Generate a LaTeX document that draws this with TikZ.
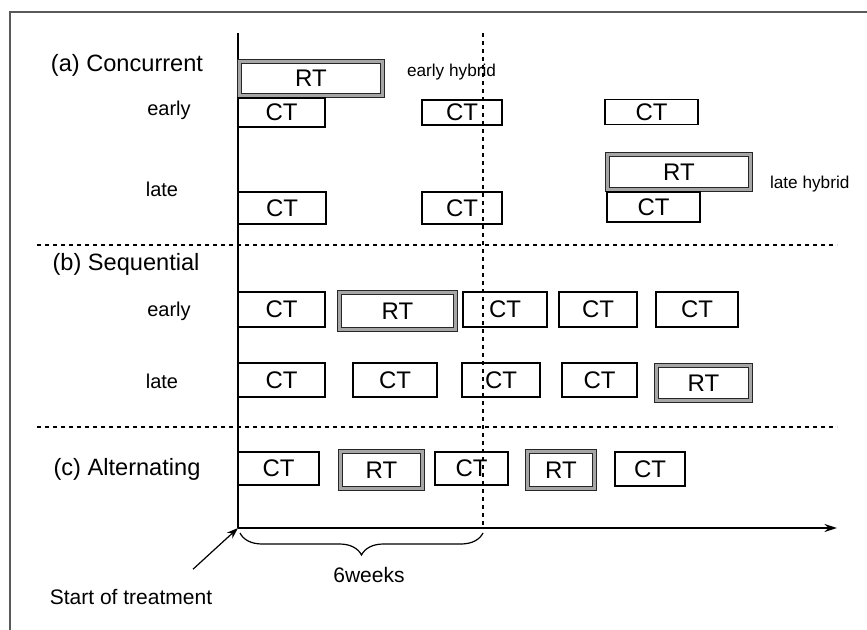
\documentclass[tikz,border=0pt]{standalone}
\usepackage{fontspec}
\setmainfont{Liberation Sans}
\usetikzlibrary{arrows.meta,decorations.pathreplacing}
\tikzset{
  ctbox/.style    = {draw,line width=0.6pt,inner sep=0pt,font=\fontsize{12}{14}\selectfont},
  rtbox/.style    = {draw=black!85,double=gray!70,double distance=1.5pt,line width=0.5pt,
                     inner sep=0pt,font=\fontsize{12}{14}\selectfont},
  axisline/.style = {line width=0.7pt},
  timearr/.style  = {-{Stealth[length=2.2mm,width=1.4mm]},line width=0.7pt},
  sepline/.style  = {dashed,dash pattern=on 2.2pt off 1.8pt,line width=0.55pt},
  brline/.style   = {decorate,line width=0.6pt},
  grouplbl/.style = {font=\fontsize{11.8}{14}\selectfont},
  rowlbl/.style   = {font=\fontsize{10}{12}\selectfont},
  notelbl/.style  = {font=\fontsize{8.6}{10}\selectfont,anchor=west}
}
\begin{document}
\begin{tikzpicture}[x=0.5pt,y=-0.5pt]
  \useasboundingbox (0,0) rectangle (867,630);
  % frame
  \draw[line width=0.6pt,gray!70!black] (10,630) -- (10,12) -- (867,12);
  % axes
  \coordinate (origin) at (238,528);
  \coordinate (axtop)  at (238,33);
  \coordinate (axend)  at (837,528);
  \coordinate (sixtop) at (483,33);
  \coordinate (six)    at (483,528);
  \draw[axisline] (axtop) -- (origin);
  \draw[timearr] (origin) -- (axend);
  \draw[sepline] (sixtop) -- (six);
  \draw[sepline] (37,245) -- (837,245);
  \draw[sepline] (37,427) -- (837,427);
  % group and row labels
  \node[grouplbl] (lblA) at (127,65)  {(a) Concurrent};
  \node[grouplbl] (lblB) at (126,264) {(b) Sequential};
  \node[grouplbl] (lblC) at (127,469) {(c) Alternating};
  \node[rowlbl] (aearly) at (169,110) {early};
  \node[rowlbl] (alate)  at (162,189) {late};
  \node[rowlbl] (bearly) at (169,311) {early};
  \node[rowlbl] (blate)  at (162,381) {late};
  % (a) concurrent
  \node[rtbox,minimum width=71.5pt,minimum height=17pt] (rtA1) at (311,78.5) {RT};
  \node[ctbox,minimum width=43.5pt,minimum height=14.5pt] (ctA1) at (281.5,112.5) {CT};
  \node[ctbox,minimum width=40pt,minimum height=12.5pt] (ctA2) at (462,112.5) {CT};
  \node[ctbox,minimum width=46.5pt,minimum height=12.5pt] (ctA3) at (651.5,112) {CT};
  \node[notelbl] (ehyb) at (400,72) {early hybrid};
  \node[ctbox,minimum width=44pt,minimum height=16pt] (ctA4) at (282,208) {CT};
  \node[ctbox,minimum width=40pt,minimum height=16pt] (ctA5) at (462,208) {CT};
  \node[rtbox,minimum width=71.5pt,minimum height=17.5pt] (rtA2) at (679,172) {RT};
  \node[ctbox,minimum width=46.5pt,minimum height=15pt] (ctA6) at (653.5,207) {CT};
  \node[notelbl] (lhyb) at (763,184) {late hybrid};
  % (b) sequential
  \node[ctbox,minimum width=43.5pt,minimum height=17.5pt] (ctB1) at (281.5,309.5) {CT};
  \node[rtbox,minimum width=58pt,minimum height=18.5pt] (rtB1) at (397.5,311) {RT};
  \node[ctbox,minimum width=42pt,minimum height=17.5pt] (ctB2) at (505,309.5) {CT};
  \node[ctbox,minimum width=39pt,minimum height=17.5pt] (ctB3) at (598,309.5) {CT};
  \node[ctbox,minimum width=41pt,minimum height=17.5pt] (ctB4) at (697,309.5) {CT};
  \node[ctbox,minimum width=43.5pt,minimum height=17pt] (ctB5) at (281.5,380) {CT};
  \node[ctbox,minimum width=42pt,minimum height=17pt] (ctB6) at (395,380) {CT};
  \node[ctbox,minimum width=39pt,minimum height=17pt] (ctB7) at (501,380) {CT};
  \node[ctbox,minimum width=37.5pt,minimum height=17pt] (ctB8) at (599.5,380) {CT};
  \node[rtbox,minimum width=47pt,minimum height=17.5pt] (rtB2) at (703.5,383) {RT};
  % (c) alternating
  \node[ctbox,minimum width=40.5pt,minimum height=16.5pt] (ctC1) at (278.5,468.5) {CT};
  \node[rtbox,minimum width=41pt,minimum height=18.5pt] (rtC1) at (381.5,470) {RT};
  \node[ctbox,minimum width=36.5pt,minimum height=16.5pt] (ctC2) at (471.5,468.5) {CT};
  \node[rtbox,minimum width=33.5pt,minimum height=18.5pt] (rtC2) at (561,470) {RT};
  \node[ctbox,minimum width=35pt,minimum height=17pt] (ctC3) at (650,469) {CT};
  % brace and start marker
  \draw[brline,decoration={brace,mirror,amplitude=11pt}]
        ([xshift=1pt,yshift=-2.5pt]origin) -- ([yshift=-2.5pt]six);
  \node[rowlbl,font=\fontsize{10.5}{12}\selectfont] (weeks) at (369,575) {6weeks};
  \node[rowlbl,font=\fontsize{10.5}{12}\selectfont] (start) at (131,597) {Start of treatment};
  \draw[-{Stealth[length=2mm,width=1.4mm]},line width=0.6pt]
        ([shift={(31pt,6.5pt)}]start.north) -- (origin);
\end{tikzpicture}
\end{document}
